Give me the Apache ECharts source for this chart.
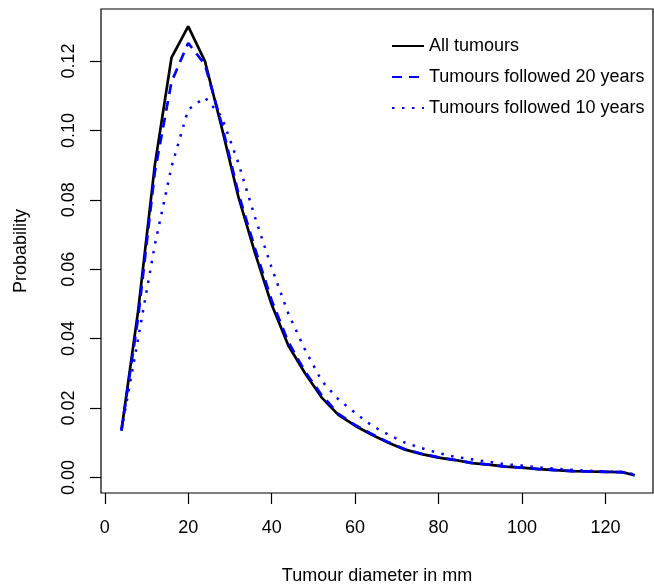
<!DOCTYPE html>
<html>
<head>
<meta charset="utf-8">
<script src="https://cdn.jsdelivr.net/npm/echarts@6/dist/echarts.min.js"></script>
<style>
  html, body { margin: 0; padding: 0; background: #fff; }
  #chart { width: 654px; height: 586px; }
</style>
</head>
<body>
<div id="chart"></div>
<script>
// Tumour diameter (mm) at which each probability is evaluated
const diameters = [4, 8, 12, 16, 20, 24, 28, 32, 36, 40, 44, 48, 52, 56, 60, 64,
  68, 72, 76, 80, 84, 88, 92, 96, 100, 104, 108, 112, 116, 120, 124, 127];

// Probability of each diameter, per group of tumours
const allTumours = [0.0135, 0.048, 0.090, 0.121, 0.130, 0.120, 0.101, 0.081, 0.0647, 0.0498,
  0.038, 0.030, 0.023, 0.018, 0.0149, 0.0123, 0.0100, 0.0080, 0.0067, 0.0057, 0.0050,
  0.0041, 0.0037, 0.0031, 0.0028, 0.0024, 0.0021, 0.0018, 0.0017, 0.0016, 0.0015, 0.0006];
const followed20 = [0.0135, 0.046, 0.088, 0.114, 0.1252, 0.119, 0.102, 0.082, 0.066, 0.051,
  0.039, 0.0305, 0.0237, 0.0183, 0.0151, 0.0125, 0.0101, 0.0081, 0.0068, 0.0058, 0.0050,
  0.0042, 0.0037, 0.0031, 0.0028, 0.0024, 0.0021, 0.0018, 0.0017, 0.0016, 0.0015, 0.0006];
const followed10 = [0.0135, 0.040, 0.067, 0.0895, 0.106, 0.1095, 0.104, 0.0907, 0.075, 0.0604,
  0.0472, 0.0368, 0.0278, 0.0225, 0.0186, 0.0149, 0.0123, 0.0100, 0.0084, 0.0070, 0.0059,
  0.0052, 0.0045, 0.0038, 0.0034, 0.0029, 0.0025, 0.0022, 0.0019, 0.0017, 0.0015, 0.0009];

// Axis ticks
const xTicks = [0, 20, 40, 60, 80, 100, 120];
const yTicks = [0, 0.02, 0.04, 0.06, 0.08, 0.10, 0.12];

const seriesNames = ['All tumours', 'Tumours followed 20 years', 'Tumours followed 10 years'];

const pairs = ys => diameters.map((d, i) => [d, ys[i]]);
const FONT = '"Liberation Sans", Arial, Helvetica, sans-serif';
const FS = 18;

const chart = echarts.init(document.getElementById('chart'), null, { renderer: 'canvas' });

chart.setOption({
  animation: false,
  backgroundColor: '#ffffff',
  textStyle: { fontFamily: FONT, color: '#000' },
  grid: {
    left: 101, top: 9, right: 1, bottom: 93,
    containLabel: false, outerBoundsMode: 'none',
    show: true, borderColor: '#000', borderWidth: 1.2, backgroundColor: 'transparent'
  },
  legend: {
    orient: 'vertical',
    left: 386, top: 32, padding: 5,
    itemWidth: 32, itemHeight: 14, itemGap: 13,
    itemStyle: { opacity: 0 },
    textStyle: { fontFamily: FONT, fontSize: FS, color: '#000' },
    data: seriesNames
  },
  xAxis: {
    type: 'value',
    min: -0.9, max: 131.4,
    name: 'Tumour diameter in mm',
    nameLocation: 'middle', nameGap: 74,
    nameTextStyle: { fontFamily: FONT, fontSize: FS, color: '#000' },
    axisLine: { show: false, onZero: false },
    splitLine: { show: false },
    axisTick: { show: true, inside: false, length: 11, customValues: xTicks, lineStyle: { color: '#000', width: 1.2 } },
    axisLabel: {
      customValues: xTicks, margin: 26,
      fontFamily: FONT, fontSize: FS, color: '#000',
      formatter: v => String(v)
    }
  },
  yAxis: {
    type: 'value',
    min: -0.0045, max: 0.135,
    name: 'Probability',
    nameLocation: 'middle', nameGap: 71, nameRotate: 90,
    nameTextStyle: { fontFamily: FONT, fontSize: FS, color: '#000' },
    axisLine: { show: false, onZero: false },
    splitLine: { show: false },
    axisTick: { show: true, inside: false, length: 11, customValues: yTicks, lineStyle: { color: '#000', width: 1.2 } },
    axisLabel: {
      customValues: yTicks, margin: 23, rotate: 90,
      fontFamily: FONT, fontSize: FS, color: '#000',
      formatter: v => v.toFixed(2)
    }
  },
  series: [
    {
      name: seriesNames[0], type: 'line', data: pairs(allTumours),
      showSymbol: false, symbol: 'none',
      lineStyle: { color: '#000000', width: 2.7, type: 'solid' },
      itemStyle: { color: '#000000' }
    },
    {
      name: seriesNames[1], type: 'line', data: pairs(followed20),
      showSymbol: false, symbol: 'none',
      lineStyle: { color: '#0000ff', width: 2.7, type: [10, 7] },
      itemStyle: { color: '#0000ff' }
    },
    {
      name: seriesNames[2], type: 'line', data: pairs(followed10),
      showSymbol: false, symbol: 'none',
      lineStyle: { color: '#0000ff', width: 2.5, type: [2.5, 7.5] },
      itemStyle: { color: '#0000ff' }
    }
  ]
});
</script>
</body>
</html>
